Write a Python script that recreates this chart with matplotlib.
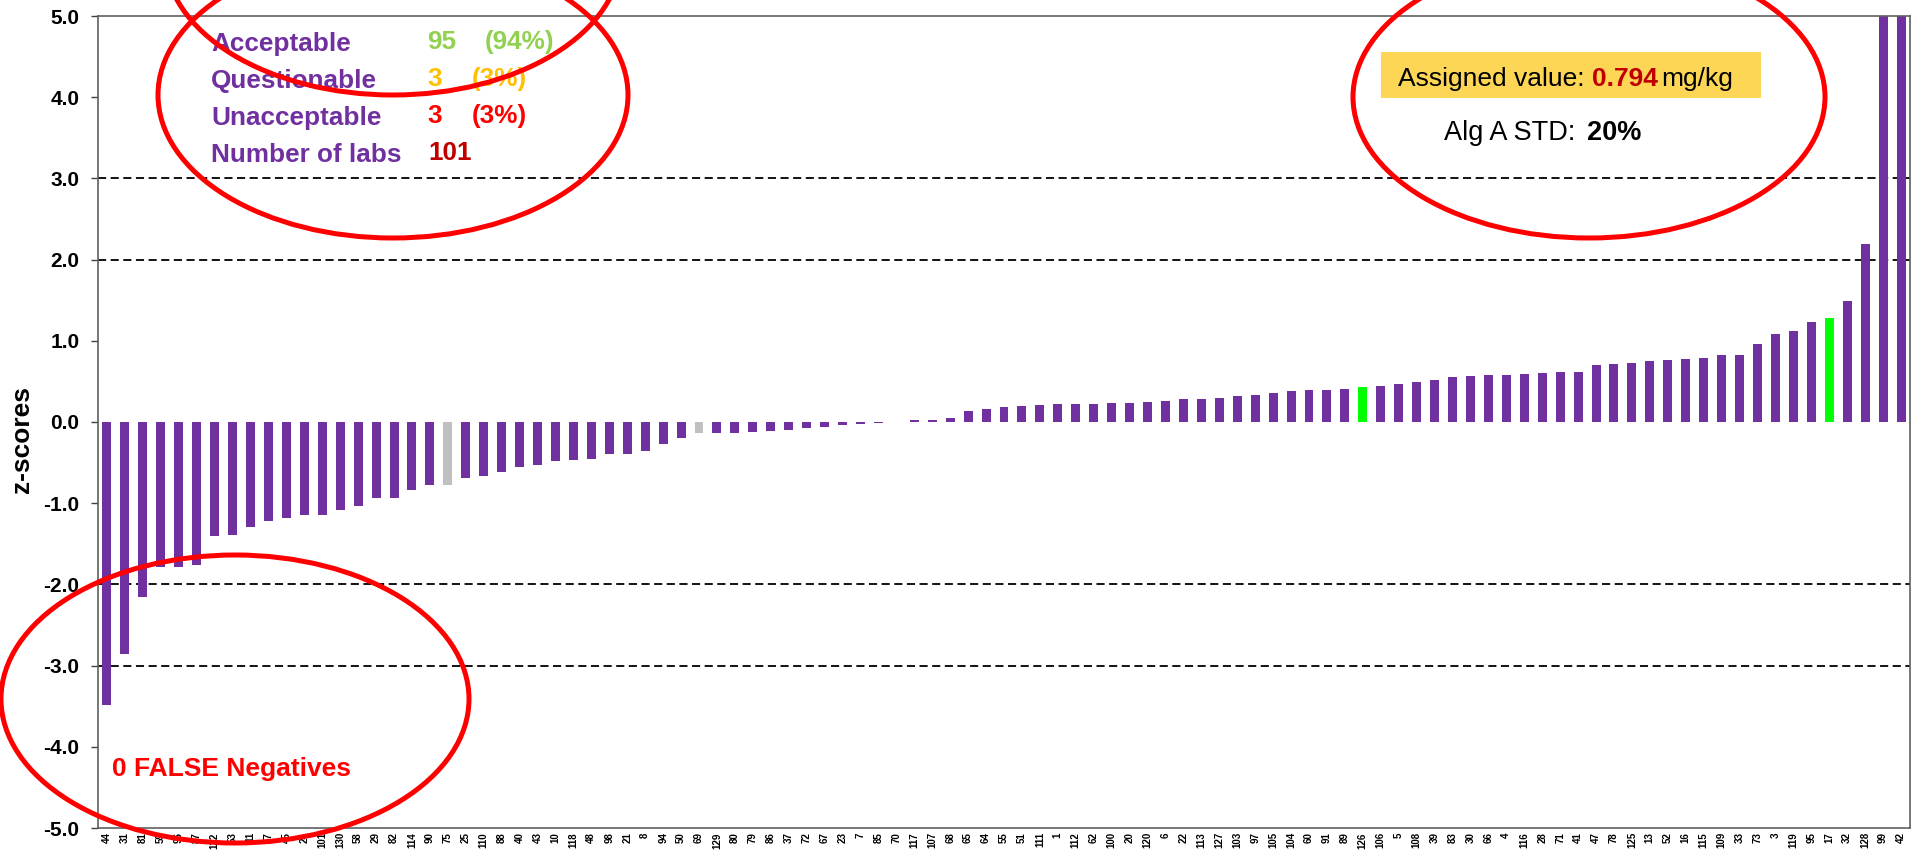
import matplotlib
matplotlib.use("Agg")
import matplotlib.pyplot as plt
from matplotlib.patches import Ellipse, Rectangle

plt.rcParams['font.family'] = ['Liberation Sans', 'DejaVu Sans']

# lab codes, in plotted order (sorted by z-score)
labs = ['44', '31', '81', '59', '96', '87', '122', '53', '11', '57', '45', '24', '101', '130', '58', '29',
        '82', '114', '90', '75', '25', '110', '88', '40', '43', '10', '118', '48', '98', '21', '8', '94', '50', '69',
        '129', '80', '79', '86', '37', '72', '67', '23', '7', '85', '70', '117', '107', '68', '65', '64', '55', '51',
        '111', '1', '112', '62', '100', '20', '120', '6', '22', '113', '127', '103', '97', '105', '104', '60', '91', '89',
        '126', '106', '5', '108', '39', '83', '30', '66', '4', '116', '28', '71', '41', '47', '78', '125', '13', '52',
        '16', '115', '109', '33', '73', '3', '119', '95', '17', '32', '128', '99', '42']

zscores = [-3.48, -2.86, -2.15, -1.79, -1.78, -1.76, -1.41, -1.39, -1.29, -1.22, -1.18, -1.14, -1.15, -1.08, -1.04, -0.94,
           -0.93, -0.84, -0.78, -0.77, -0.69, -0.66, -0.62, -0.55, -0.53, -0.48, -0.47, -0.45, -0.40, -0.39, -0.36, -0.27, -0.20, -0.14,
           -0.13, -0.13, -0.12, -0.11, -0.10, -0.08, -0.06, -0.04, -0.02, -0.01, 0.005, 0.02, 0.03, 0.05, 0.14, 0.16, 0.18, 0.20,
           0.21, 0.22, 0.22, 0.22, 0.23, 0.23, 0.25, 0.26, 0.28, 0.28, 0.30, 0.32, 0.33, 0.36, 0.38, 0.39, 0.40, 0.41,
           0.43, 0.44, 0.47, 0.49, 0.52, 0.55, 0.57, 0.58, 0.58, 0.59, 0.60, 0.61, 0.62, 0.70, 0.72, 0.73, 0.75, 0.76,
           0.78, 0.79, 0.82, 0.83, 0.96, 1.08, 1.12, 1.23, 1.28, 1.49, 2.19, 6.4, 7.9]

grey_labs = ['75', '69']
green_labs = ['126', '17']

PURPLE = '#7030A0'

W, H = 1911, 858
fig = plt.figure(figsize=(W / 100, H / 100), dpi=100)


def fx(x):
    return x / W


def fy(y):
    return 1 - y / H


ax = fig.add_axes([fx(98), fy(828), fx(1910) - fx(98), fy(16) - fy(828)])

colors = []
for lab in labs:
    if lab in grey_labs:
        colors.append('#C0C0C0')
    elif lab in green_labs:
        colors.append('#00FF00')
    else:
        colors.append(PURPLE)

x = list(range(len(labs)))
ax.bar(x, zscores, width=0.5, color=colors, zorder=2)

for yl in [-3, -2, 2, 3]:
    ax.axhline(yl, color='black', lw=1.3, dashes=(4.5, 2.5), zorder=1)

ax.set_xlim(-0.5, len(labs) - 0.5)
ax.set_ylim(-5, 5)
ax.set_yticks(range(-5, 6))
ax.set_yticklabels([f'{v:.1f}' for v in range(-5, 6)], fontsize=15, fontweight='bold')
ax.set_xticks(x)
ax.set_xticklabels(labs, rotation=90, fontsize=7, fontweight='bold')
ax.tick_params(axis='x', length=0, pad=3)
ax.tick_params(axis='y', length=5, width=1, color='#404040', pad=8.5)
for s in ax.spines.values():
    s.set_color('#606060')
    s.set_linewidth(1.2)

fig.text(fx(22), fy(440), 'z-scores', rotation=90, fontsize=19, fontweight='bold',
         ha='center', va='center')

# summary block (top left)
rows = [('Acceptable', 51, [('95', 427, '#92D050'), ('(94%)', 485, '#92D050')]),
        ('Questionable', 88, [('3', 427, '#FFC000'), ('(3%)', 472, '#FFC000')]),
        ('Unacceptable', 125, [('3', 427, '#FF0000'), ('(3%)', 472, '#FF0000')]),
        ('Number of labs', 162, [('101', 428, '#C00000')])]
for name, yb, parts in rows:
    fig.text(fx(211), fy(yb), name, fontsize=18.8, fontweight='bold', color=PURPLE, va='baseline')
    for txt, xp, col in parts:
        fig.text(fx(xp), fy(yb - 2), txt, fontsize=18.8, fontweight='bold', color=col, va='baseline')

# assigned value box
fig.patches.append(Rectangle((fx(1381), fy(98)), fx(1761) - fx(1381), fy(52) - fy(98),
                             transform=fig.transFigure, facecolor='#FDD655', edgecolor='none', zorder=3))
fig.text(fx(1398), fy(86), 'Assigned value:', fontsize=19, color='black', va='baseline', zorder=4)
fig.text(fx(1592), fy(86), '0.794', fontsize=19, fontweight='bold', color='#C00000', va='baseline', zorder=4)
fig.text(fx(1661), fy(86), 'mg/kg', fontsize=19, color='black', va='baseline', zorder=4)
fig.text(fx(1444), fy(140), 'Alg A STD:', fontsize=19.5, color='black', va='baseline')
fig.text(fx(1587), fy(140), '20%', fontsize=19.5, fontweight='bold', color='black', va='baseline')

fig.text(fx(112), fy(776), '0 FALSE Negatives', fontsize=19, fontweight='bold', color='#FF0000', va='baseline')

# red highlight ellipses
for cx, cy, a, b in [(393, 95, 235, 143), (393, -45, 228, 140), (1589, 97, 236, 141), (235, 699, 234, 144)]:
    fig.patches.append(Ellipse((fx(cx), fy(cy)), 2 * a / W, 2 * b / H, transform=fig.transFigure,
                               fill=False, edgecolor='#FF0000', lw=3.6, zorder=10))

fig.savefig('out.png', dpi=100)
